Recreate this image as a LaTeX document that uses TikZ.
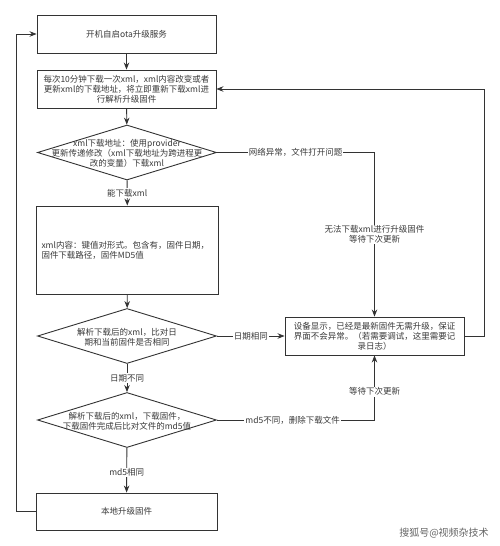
\documentclass[tikz,border=0pt]{standalone}
\usepackage{fontspec}
\setmainfont{Noto Sans CJK SC}
\usetikzlibrary{arrows.meta,shapes.geometric}
\definecolor{ln}{HTML}{333333}
\definecolor{txt}{HTML}{3a3a3a}
\tikzset{
  fs/.style={font=\fontsize{8.5}{10}\selectfont},
  box/.style={draw=ln, line width=0.9pt, inner sep=0pt, fs, text=txt, align=center, minimum width=179pt, minimum height=38pt},
  dia/.style={draw=ln, line width=0.9pt, diamond, inner sep=0pt, minimum width=179pt, minimum height=55pt},
  dtext/.style={fs, text=txt, align=center, inner sep=0pt},
  arr/.style={draw=ln, line width=0.9pt, -{Stealth[length=7pt,width=5.5pt]}},
  lab/.style={fill=white, fs, text=txt, inner sep=1pt, align=center},
}
\begin{document}
\begin{tikzpicture}[x=1pt,y=-1pt]
\useasboundingbox[fill=white] (0,0) rectangle (500,546);

\node[box] (b1) at (126.5,34) {开机自启ota升级服务};
\node[box] (b2) at (126.5,89) {每次10分钟下载一次xml，xml内容改变或者\\更新xml的下载地址，将立即重新下载xml进\\行解析升级固件};
\node[dia] (d1) at (127,152.5) {};
\node[dtext] (t1) at (127,153) {xml下载地址：使用provider\\更新传递修改（xml下载地址为跨进程更\\改的变量）下载xml};
\node[box, minimum width=182pt, minimum height=88pt, text width=172pt, align=left] (b3) at (127.5,250) {xml内容：键值对形式。包含有，固件日期，\\固件下载路径，固件MD5值};
\node[dia] (d2) at (127,336) {};
\node[dtext] (t2) at (127,337) {解析下载后的xml，比对日\\期和当前固件是否相同};
\node[dia] (d3) at (127,420) {};
\node[dtext] (t3) at (127,421) {解析下载后的xml，下载固件，\\下载固件完成后比对文件的md5值};
\node[box, minimum width=181pt, minimum height=37pt] (b5) at (126.5,511.5) {本地升级固件};
\node[box] (b4) at (374.5,336) {设备显示，已经是最新固件无需升级，保证\\界面不会异常。（若需要调试，这里需要记\\录日志）};

\coordinate (r) at (484,89);
\coordinate (l) at (16,511.5);

\draw[arr] (b1) -- (b2);
\draw[arr] (b2) -- (d1);
\draw[arr] (d1) -- node[lab] {能下载xml} (b3);
\draw[arr] (b3) -- (d2);
\draw[arr] (d2) -- node[lab] {日期不同} (d3);
\draw[arr] (d3) -- node[lab, pos=0.55] {md5相同} (b5);
\draw[arr] (d2) -- node[lab] {日期相同} (b4);
\draw[arr] (d1.east) -| node[lab, pos=0.25] {网络异常，文件打开问题} node[lab, pos=0.75] {无法下载xml进行升级固件\\等待下次更新} (b4.north);
\draw[arr] (d3.east) -| node[lab, pos=0.24] {md5不同，删除下载文件} node[lab, pos=0.72] {等待下次更新} (b4.south);
\draw[arr] (b4.east) -| (r) -- (b2.east);
\draw[arr] (b5.west) -- (l) |- (b1.west);

\node[font=\fontsize{10}{12}\selectfont, text=gray!80!black] (wm) at (444,533) {搜狐号@视频杂技术};
\end{tikzpicture}
\end{document}
